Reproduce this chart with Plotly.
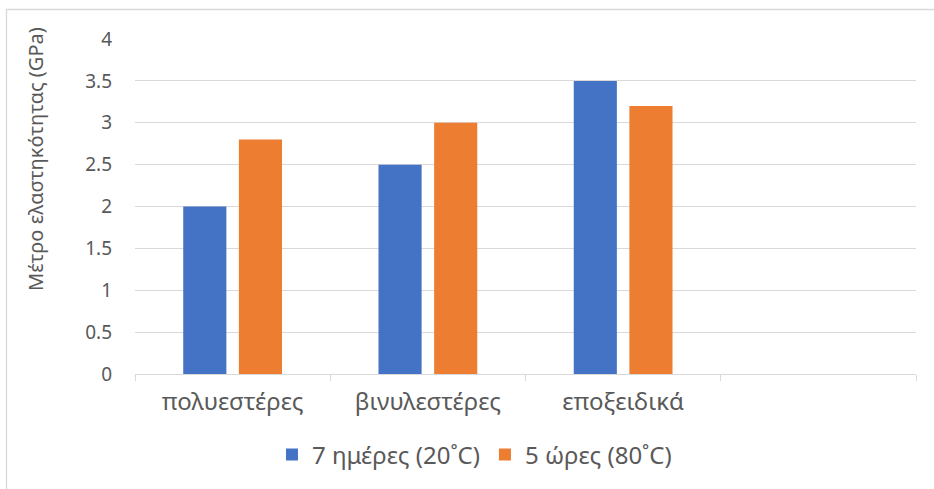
import plotly.graph_objects as go

categories = ["πολυεστέρες", "βινυλεστέρες", "εποξειδικά"]
axis_slots = categories + [" "]
series_names = ["7 ημέρες (20˚C)", "5 ώρες (80˚C)"]
values_7days = [2.0, 2.5, 3.5]
values_5hours = [2.8, 3.0, 3.2]
y_ticks = [0, 0.5, 1, 1.5, 2, 2.5, 3, 3.5, 4]
y_title = "Μέτρο ελαστηκότητας (GPa)"

W, H = 934, 489
FONT = "Noto Sans"
TXT = "#595959"
GRID = "#d9d9d9"

fig = go.Figure()
fig.add_trace(go.Bar(x=categories, y=values_7days, name=series_names[0],
                     marker=dict(color="#4472C4", line=dict(width=0))))
fig.add_trace(go.Bar(x=categories, y=values_5hours, name=series_names[1],
                     marker=dict(color="#ED7D31", line=dict(width=0))))

x0, x1 = 135, 916
y_top, y_bot = 39, 374

fig.update_layout(
    template="none",
    width=W, height=H,
    margin=dict(l=0, r=0, t=0, b=0, pad=0),
    paper_bgcolor="white", plot_bgcolor="white",
    font=dict(family=FONT, size=18, color=TXT),
    barmode="group", bargap=0.43, bargroupgap=0.225,
    showlegend=True,
    legend=dict(orientation="h", x=0.508, xanchor="center", y=1 - 455 / H, yanchor="middle",
                font=dict(family=FONT, size=24, color=TXT), itemwidth=30,
                bgcolor="rgba(0,0,0,0)"),
    xaxis=dict(domain=[x0 / W, x1 / W], type="category", automargin=False,
               categoryorder="array", categoryarray=axis_slots,
               range=[-0.5, 3.5], showgrid=False, zeroline=False,
               showline=True, linecolor=GRID, linewidth=1,
               ticks="outside", tickson="boundaries", ticklen=6, tickcolor=GRID, tickwidth=1,
               ticklabelstandoff=6,
               tickfont=dict(family=FONT, size=24, color=TXT), fixedrange=True),
    yaxis=dict(domain=[1 - y_bot / H, 1 - y_top / H], range=[0, 4], automargin=False,
               tickvals=y_ticks, ticktext=[f"{v:g}" for v in y_ticks],
               showgrid=True, gridcolor=GRID, gridwidth=1, zeroline=False,
               showline=False, ticks="", ticklabelstandoff=22,
               tickfont=dict(family=FONT, size=19, color=TXT), fixedrange=True),
    shapes=[dict(type="rect", xref="paper", yref="paper",
                 x0=6.5 / W, x1=1.05, y0=-0.05, y1=1 - 9.5 / H,
                 line=dict(color=GRID, width=1.3), fillcolor="rgba(0,0,0,0)", layer="below")],
    annotations=[dict(text=y_title, xref="paper", yref="paper",
                      x=35 / W, y=1 - 159 / H, textangle=-90, showarrow=False,
                      xanchor="center", yanchor="middle",
                      font=dict(family=FONT, size=20, color=TXT))],
)

fig.write_html("out.html", config={"displayModeBar": False},
               post_script="document.body.style.margin='0';")
